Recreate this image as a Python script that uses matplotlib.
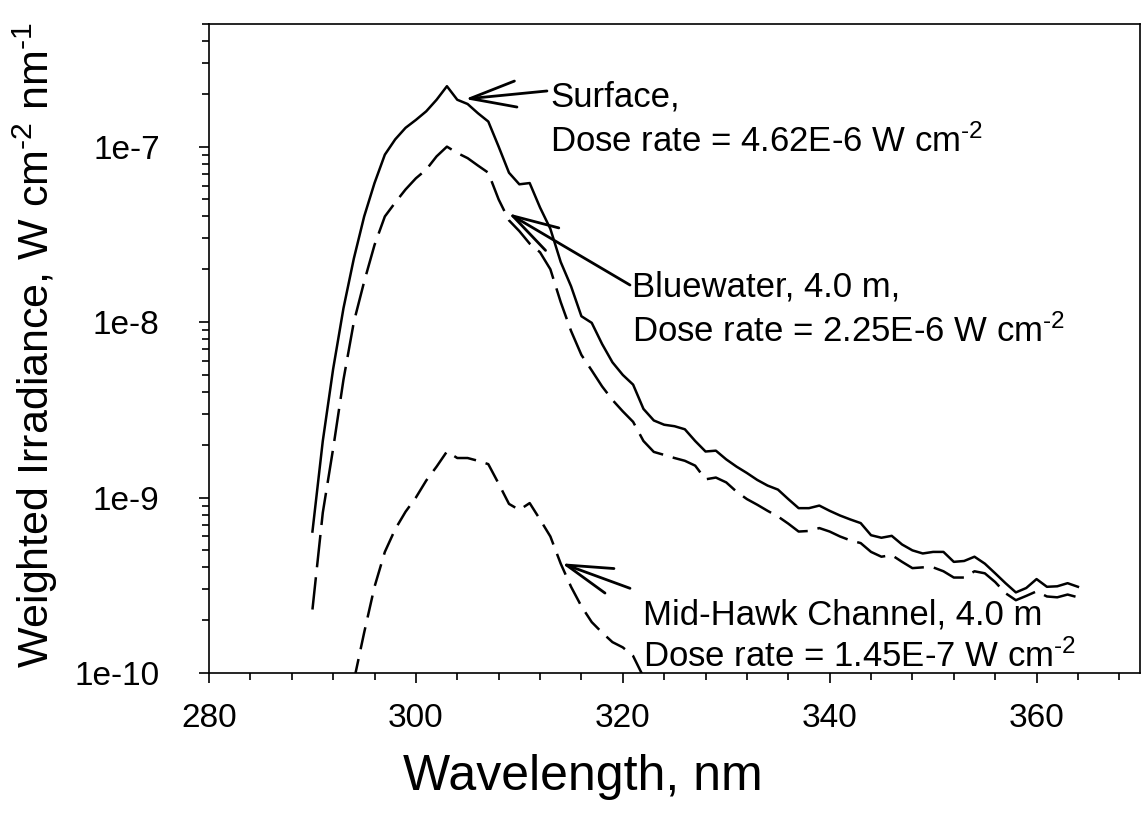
import numpy as np
import matplotlib.pyplot as plt
from matplotlib.ticker import MultipleLocator, LogLocator, FuncFormatter, NullFormatter

plt.rcParams['font.family'] = 'Liberation Sans'
plt.rcParams['mathtext.fontset'] = 'custom'
plt.rcParams['mathtext.rm'] = 'Liberation Sans'
plt.rcParams['mathtext.it'] = 'Liberation Sans:italic'
plt.rcParams['mathtext.bf'] = 'Liberation Sans:bold'

# wavelength grid (nm)
wl = np.arange(290, 365)
wl_mid = np.arange(294, 323)

# Surface
surface = [6.4e-10, 2.1e-9, 5.4e-9, 1.2e-8, 2.3e-8, 4.0e-8, 6.2e-8, 9.0e-8, 1.1e-7, 1.28e-7,
           1.42e-7, 1.59e-7, 1.85e-7, 2.21e-7, 1.85e-7, 1.75e-7, 1.55e-7, 1.39e-7, 1.0e-7, 7.1e-8,
           6.1e-8, 6.2e-8, 4.5e-8, 3.4e-8, 2.2e-8, 1.6e-8, 1.08e-8, 9.9e-9, 7.5e-9, 5.9e-9,
           5.0e-9, 4.4e-9, 3.2e-9, 2.75e-9, 2.6e-9, 2.55e-9, 2.45e-9, 2.1e-9, 1.83e-9, 1.85e-9,
           1.65e-9, 1.5e-9, 1.38e-9, 1.26e-9, 1.17e-9, 1.11e-9, 9.8e-10, 8.7e-10, 8.7e-10, 9.0e-10,
           8.4e-10, 7.9e-10, 7.5e-10, 7.15e-10, 6.1e-10, 5.9e-10, 6.05e-10, 5.4e-10, 5.0e-10, 4.8e-10,
           4.9e-10, 4.9e-10, 4.3e-10, 4.35e-10, 4.6e-10, 4.2e-10, 3.7e-10, 3.25e-10, 2.88e-10, 3.05e-10,
           3.43e-10, 3.1e-10, 3.12e-10, 3.25e-10, 3.1e-10]

# Bluewater, 4.0 m
bluewater = [2.3e-10, 8.2e-10, 1.9e-9, 4.7e-9, 1.0e-8, 1.7e-8, 2.75e-8, 4.0e-8, 4.8e-8, 5.7e-8,
             6.6e-8, 7.4e-8, 8.8e-8, 1.0e-7, 9.2e-8, 8.6e-8, 7.8e-8, 7.1e-8, 5.0e-8, 3.8e-8,
             3.3e-8, 2.8e-8, 2.5e-8, 2.0e-8, 1.3e-8, 8.9e-9, 6.5e-9, 5.3e-9, 4.3e-9, 3.6e-9,
             3.1e-9, 2.7e-9, 2.1e-9, 1.82e-9, 1.75e-9, 1.68e-9, 1.62e-9, 1.52e-9, 1.27e-9, 1.3e-9,
             1.22e-9, 1.08e-9, 9.8e-10, 9.1e-10, 8.4e-10, 7.8e-10, 7.1e-10, 6.4e-10, 6.45e-10, 6.7e-10,
             6.4e-10, 6.0e-10, 5.7e-10, 5.5e-10, 4.9e-10, 4.6e-10, 4.7e-10, 4.3e-10, 3.96e-10, 4.0e-10,
             4.0e-10, 3.8e-10, 3.5e-10, 3.5e-10, 3.8e-10, 3.7e-10, 3.3e-10, 2.85e-10, 2.6e-10, 2.75e-10,
             2.92e-10, 2.73e-10, 2.7e-10, 2.8e-10, 2.7e-10]

# Mid-Hawk Channel, 4.0 m
midhawk = [9.0e-11, 1.7e-10, 3.1e-10, 4.9e-10, 6.6e-10, 8.3e-10, 1.0e-9, 1.25e-9, 1.5e-9, 1.83e-9,
           1.68e-9, 1.68e-9, 1.62e-9, 1.55e-9, 1.2e-9, 9.2e-10, 8.5e-10, 9.3e-10, 7.5e-10, 6.0e-10,
           4.2e-10, 3.1e-10, 2.4e-10, 1.95e-10, 1.7e-10, 1.5e-10, 1.4e-10, 1.25e-10, 9.5e-11]

fig = plt.figure(figsize=(11.43, 8.16), dpi=100)
ax = fig.add_axes([209/1143, 1-673/816, 931/1143, 649/816])

ax.plot(wl, surface, color='black', lw=1.8)
ax.plot(wl, bluewater, color='black', lw=1.8, linestyle=(0, (13, 4)))
ax.plot(wl_mid, midhawk, color='black', lw=1.8, linestyle=(0, (9, 4)))

ax.set_yscale('log')
ax.set_xlim(280, 370)
ax.set_ylim(1e-10, 5e-7)

ax.xaxis.set_major_locator(MultipleLocator(20))
ax.xaxis.set_minor_locator(MultipleLocator(4))
ax.yaxis.set_major_locator(LogLocator(base=10, numticks=10))
ax.yaxis.set_minor_locator(LogLocator(base=10, subs=np.arange(2, 10), numticks=20))
ax.yaxis.set_major_formatter(FuncFormatter(lambda v, p: f'1e{int(round(np.log10(v)))}'))
ax.yaxis.set_minor_formatter(NullFormatter())

ax.tick_params(which='both', direction='out', top=False, right=False, width=1.2, labelsize=24)
ax.tick_params(which='major', length=7.5)
ax.tick_params(which='minor', length=4.8)
ax.tick_params(axis='x', which='major', pad=14)
ax.tick_params(axis='y', which='major', pad=28)
for s in ax.spines.values():
    s.set_linewidth(1.2)

hy = '\u2010'  # plain hyphen in superscripts, as in the original
fig.text(35/1143, 1-345/816, f'Weighted Irradiance, W cm$^{{{hy}2}}$ nm$^{{{hy}1}}$',
         rotation=90, ha='center', va='center', fontsize=31)
fig.text(583/1143, 1-790/816, 'Wavelength, nm', ha='center', va='baseline', fontsize=36)

# arrows and labels
ap = dict(arrowstyle='->,head_length=1.65,head_width=0.47', lw=2, color='black',
          mutation_scale=20, shrinkA=0, shrinkB=0)
ax.annotate('', xy=(0.2750, 0.8844), xytext=(0.3630, 0.8968), xycoords='axes fraction', arrowprops=ap)
ax.annotate('', xy=(0.3215, 0.7083), xytext=(0.4522, 0.5978), xycoords='axes fraction', arrowprops=ap)
ax.annotate('', xy=(0.3788, 0.1690), xytext=(0.4522, 0.1305), xycoords='axes fraction', arrowprops=ap)

fs = 25
sup = f'$^{{{hy}2}}$'
ax.text(0.3663, 0.8726, 'Surface,', transform=ax.transAxes, fontsize=fs, va='baseline')
ax.text(0.3663, 0.8032, 'Dose rate = 4.62E-6 W cm' + sup, transform=ax.transAxes, fontsize=fs, va='baseline')
ax.text(0.4540, 0.5798, 'Bluewater, 4.0 m,', transform=ax.transAxes, fontsize=fs, va='baseline')
ax.text(0.4540, 0.5105, 'Dose rate = 2.25E-6 W cm' + sup, transform=ax.transAxes, fontsize=fs, va='baseline')
ax.text(0.4665, 0.0740, 'Mid-Hawk Channel, 4.0 m', transform=ax.transAxes, fontsize=fs, va='baseline')
ax.text(0.4665, 0.0097, 'Dose rate = 1.45E-7 W cm' + sup, transform=ax.transAxes, fontsize=fs, va='baseline')

fig.savefig('out.png', dpi=100)
